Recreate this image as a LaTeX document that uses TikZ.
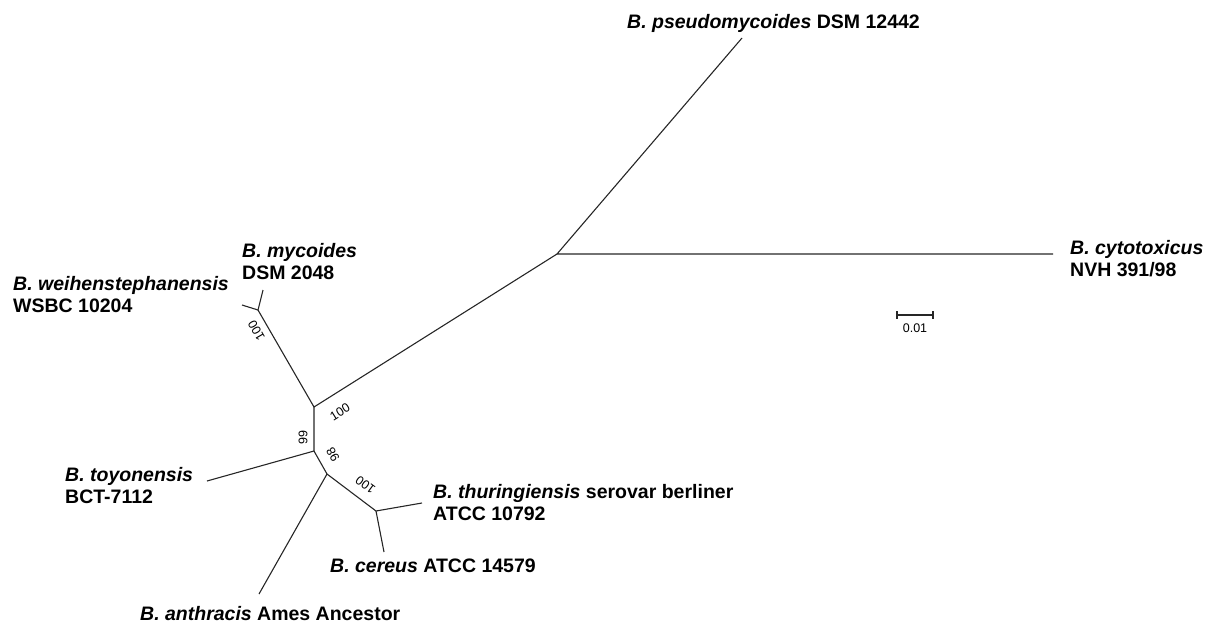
\documentclass[tikz,border=0pt]{standalone}
\usepackage{fontspec}
\setmainfont{Liberation Sans}
\begin{document}
\begin{tikzpicture}[x=1pt,y=-1pt,
  branch/.style={line width=1.1pt, black!85, line join=round},
  taxon/.style={font=\fontsize{19.5}{22}\selectfont\bfseries, inner sep=0pt, anchor=base west},
  boot/.style={font=\fontsize{12.5}{15}\selectfont, inner sep=0pt},
]
\useasboundingbox (0,0) rectangle (1212,625);
% internal vertices of the unrooted tree
\coordinate (hub) at (557,254);
\coordinate (nA) at (314,407);
\coordinate (nM) at (258,310);
\coordinate (nB) at (314,451);
\coordinate (nD) at (327,474);
\coordinate (nE) at (376,511);
% leaf ends
\coordinate (tPse) at (742,38);
\coordinate (tCyt) at (1053,254);
\coordinate (tMyc) at (263,290);
\coordinate (tWei) at (242,305);
\coordinate (tToy) at (207,481);
\coordinate (tAnt) at (259,594);
\coordinate (tThu) at (422,503);
\coordinate (tCer) at (384,552);

% branches
\draw[branch] (tPse) -- (hub) -- (tCyt);
\draw[branch] (hub) -- (nA) -- (nM) -- (tMyc);
\draw[branch] (nM) -- (tWei);
\draw[branch] (nA) -- (nB) -- (tToy);
\draw[branch] (nB) -- (nD) -- (tAnt);
\draw[branch] (nD) -- (nE) -- (tThu);
\draw[branch] (nE) -- (tCer);

% bootstrap values
\node[boot, rotate=32]  (bA) at (340,412) {100};
\node[boot, rotate=120] (bM) at (256.5,331) {100};
\node[boot, rotate=90]  (bB) at (303,437.5) {99};
\node[boot, rotate=120] (bD) at (333,455) {98};
\node[boot, rotate=144] (bE) at (365.5,485) {100};

% taxon names
\node[taxon] (pse)  at (627,28)   {\textit{B. pseudomycoides} DSM 12442};
\node[taxon] (cyt1) at (1070,254) {\textit{B. cytotoxicus}};
\node[taxon] (cyt2) at (1070,276) {NVH 391/98};
\node[taxon] (myc1) at (242,257)  {\textit{B. mycoides}};
\node[taxon] (myc2) at (242,279)  {DSM 2048};
\node[taxon] (wei1) at (13,290)   {\textit{B. weihenstephanensis}};
\node[taxon] (wei2) at (13,312)   {WSBC 10204};
\node[taxon] (toy1) at (65,481)   {\textit{B. toyonensis}};
\node[taxon] (toy2) at (65,503)   {BCT-7112};
\node[taxon] (thu1) at (433,498)  {\textit{B. thuringiensis} serovar berliner};
\node[taxon] (thu2) at (433,520)  {ATCC 10792};
\node[taxon] (cer)  at (330,572)  {\textit{B. cereus} ATCC 14579};
\node[taxon] (ant)  at (140,620)  {\textit{B. anthracis} Ames Ancestor};

% scale bar
\coordinate (sL) at (897,315);
\coordinate (sR) at (933,315);
\draw[branch] (sL) -- (sR);
\draw[branch] ([yshift=4pt]sL) -- ([yshift=-4pt]sL);
\draw[branch] ([yshift=4pt]sR) -- ([yshift=-4pt]sR);
\node[boot] (sLab) at (915,328) {0.01};
\end{tikzpicture}
\end{document}
